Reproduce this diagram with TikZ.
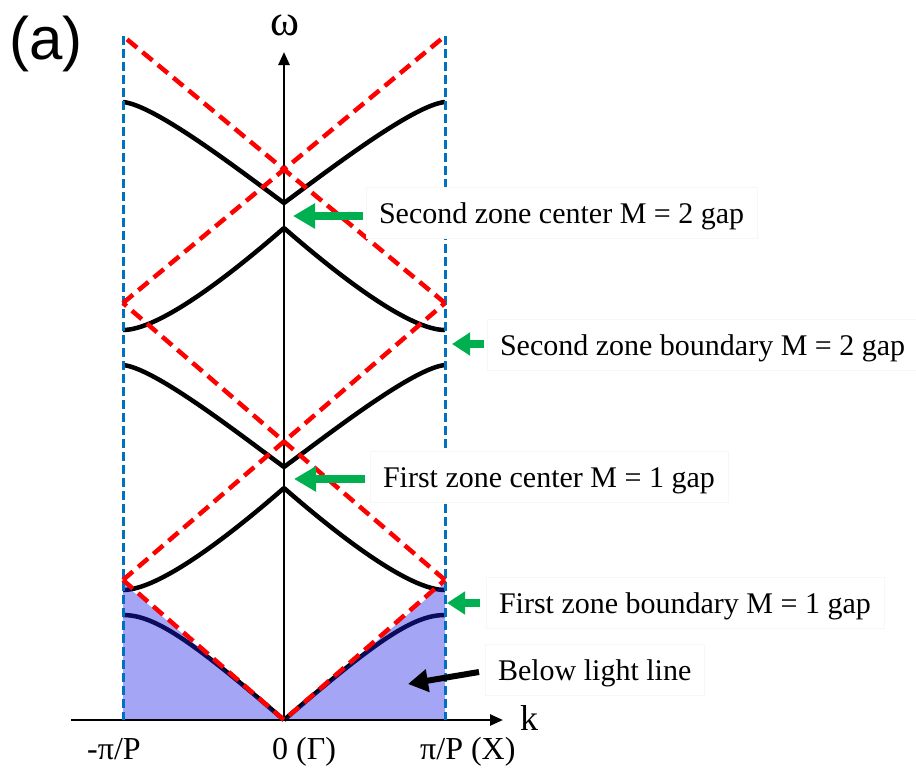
\documentclass[tikz,border=0pt]{standalone}
\usepackage{fontspec}
\setmainfont{Liberation Serif}
\newfontfamily\labelsans{Liberation Sans}
\usetikzlibrary{arrows.meta}
\definecolor{redline}{RGB}{255,0,0}
\definecolor{blueline}{RGB}{0,112,192}
\definecolor{greenarrow}{RGB}{0,176,80}
\definecolor{lightfill}{RGB}{30,30,230}
\begin{document}
\begin{tikzpicture}[x=1pt,y=-1pt,
  band/.style={line width=4.5pt,black},
  lightline/.style={redline,line width=4.5pt,dash pattern=on 13pt off 7pt},
  zoneline/.style={blueline,line width=3pt,dash pattern=on 9pt off 4pt},
  axisline/.style={line width=2.5pt,-{Triangle[length=13pt,width=11pt]}},
  lbl/.style={font=\fontsize{30}{36}\selectfont,fill=white,draw=black!3,line width=0.5pt,
    inner xsep=13pt,inner ysep=6pt,text height=30pt,text depth=9pt,anchor=text},
  ticklbl/.style={font=\fontsize{32}{38}\selectfont,inner sep=0pt,anchor=base west},
  axislbl/.style={font=\fontsize{36}{40}\selectfont,inner sep=0pt},
  garrow/.style={greenarrow,line width=8pt,-{Triangle[length=22pt,width=24pt]}},
  gsmall/.style={greenarrow,line width=8pt,-{Triangle[length=18pt,width=22pt]}},
  barrow/.style={black,line width=6pt,-{Triangle[length=20pt,width=22pt]}}
]
\useasboundingbox (0,0) rectangle (916,769);

% bands (right half mirrored)
\foreach \s in {1,-1}{
  \begin{scope}[shift={(284,0)},xscale=\s]
    \draw[band] (0,720) .. controls (96,637) and (131,615) .. (161,615);
    \draw[band] (0,488) .. controls (55,536) and (125,590) .. (161,590);
    \draw[band] (0,467) .. controls (50,430) and (130,368) .. (161,365);
    \draw[band] (0,228) .. controls (55,276) and (125,330) .. (161,330);
    \draw[band] (0,203) .. controls (50,166) and (130,105) .. (161,102);
  \end{scope}
}

% region below the light line
\fill[lightfill,opacity=0.4] (123,720) -- (123,583) -- (284,720) -- (445,583) -- (445,720) -- cycle;

% axes
\coordinate (O) at (284,720);
\coordinate (kstart) at (71,720);
\coordinate (kend) at (503,720);
\coordinate (wend) at (284,52);
\draw[axisline] (kstart) -- (kend);
\draw[axisline] (O) -- (wend);
\node[font=\fontsize{44}{48}\selectfont,inner sep=0pt] (omega) at (285,25) {ω};
\node[axislbl,anchor=base west] (klab) at (520,730) {k};

% zone boundaries
\coordinate (L0) at (123,36);
\coordinate (R0) at (445,36);
\coordinate (L1) at (123,303);
\coordinate (R1) at (445,303);
\coordinate (L2) at (123,580);
\coordinate (R2) at (445,580);
\coordinate (LB) at (123,720);
\coordinate (RB) at (445,720);
\draw[zoneline] (L0) -- (LB);
\draw[zoneline] (R0) -- (RB);

% folded light lines
\draw[lightline] (L2) -- (O) -- (R2);
\draw[lightline] (L2) -- (R1);
\draw[lightline] (R2) -- (L1);
\draw[lightline] (L1) -- (R0);
\draw[lightline] (R1) -- (L0);

% tick labels
\node[ticklbl] (tl) at (87,759) {-π/P};
\node[ticklbl] (tc) at (272,759) {0 (Γ)};
\node[ticklbl] (tr) at (420,759) {π/P (X)};

% panel label
\node[font=\labelsans\fontsize{60}{64}\selectfont,inner sep=0pt,anchor=base west] (panel) at (9,59) {(a)};

% annotation labels
\node[lbl] (lab1) at (379,223) {Second zone center M = 2 gap};
\node[lbl] (lab2) at (500,355) {Second zone boundary M = 2 gap};
\node[lbl] (lab3) at (383,487) {First zone center M = 1 gap};
\node[lbl] (lab4) at (499,613) {First zone boundary M = 1 gap};
\node[lbl] (lab5) at (498,680) {Below light line};

% arrows
\coordinate (a1t) at (363,216);
\coordinate (a1h) at (293,216);
\coordinate (a2t) at (484,344);
\coordinate (a2h) at (452,344);
\coordinate (a3t) at (365,479);
\coordinate (a3h) at (294,479);
\coordinate (a4t) at (480,603);
\coordinate (a4h) at (447,603);
\coordinate (a5t) at (479,672);
\coordinate (a5h) at (408,684);
\draw[garrow] (a1t) -- (a1h);
\draw[gsmall] (a2t) -- (a2h);
\draw[garrow] (a3t) -- (a3h);
\draw[gsmall] (a4t) -- (a4h);
\draw[barrow] (a5t) -- (a5h);
\end{tikzpicture}
\end{document}
